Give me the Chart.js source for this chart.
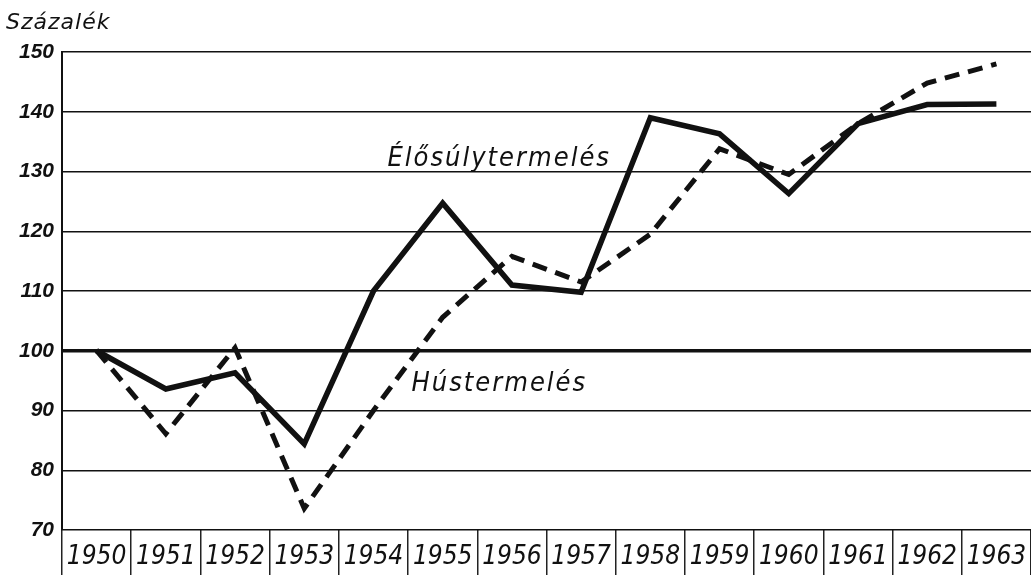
<!DOCTYPE html>
<html>
<head>
<meta charset="utf-8">
<script src="https://cdn.jsdelivr.net/npm/chart.js@4"></script>
<style>
  body { margin: 0; background: #fff; }
  canvas { display: block; }
</style>
</head>
<body>
<canvas id="chart" width="1031" height="578"></canvas>
<script>
// évek és indexek (1950 = 100)
const years = ['1950', '1951', '1952', '1953', '1954', '1955', '1956', '1957', '1958', '1959', '1960', '1961', '1962', '1963'];
const elosulyTermeles = [100, 93.6, 96.3, 84.4, 110, 124.7, 111, 109.8, 139, 136.3, 126.3, 138, 141.2, 141.3];
const husTermeles = [100, 86.1, 100.5, 73.6, 90, 105.6, 115.8, 111.5, 119.5, 133.8, 129.5, 138, 144.8, 148];
const yMin = 70;
const yMax = 150;
const yStep = 10;
const yTitle = 'Százalék';
const labels = [
    { text: 'Élősúlytermelés', year: '1954', dx: 14, value: 131 },
    { text: 'Hústermelés', year: '1954', dx: 38, value: 93.3 }
];

const condensed = "'Liberation Sans Narrow', 'DejaVu Sans Condensed', 'Liberation Sans', sans-serif";

const textPlugin = {
    id: 'texts',
    afterDraw(chart) {
        const ctx = chart.ctx;
        const x = chart.scales.x;
        const y = chart.scales.y;
        ctx.save();
        ctx.fillStyle = '#111';
        ctx.textBaseline = 'alphabetic';
        ctx.textAlign = 'left';
        ctx.font = "italic 22px 'DejaVu Sans', sans-serif";
        ctx.letterSpacing = '1px';
        ctx.fillText(yTitle, 6, 29);
        ctx.font = "italic 27px " + condensed;
        ctx.letterSpacing = '2px';
        labels.forEach(l => {
            const px = x.getPixelForValue(years.indexOf(l.year)) + l.dx;
            ctx.fillText(l.text, px, y.getPixelForValue(l.value));
        });
        ctx.restore();
    }
};

const ctx = document.getElementById('chart').getContext('2d');
new Chart(ctx, {
    type: 'line',
    data: {
        labels: years,
        datasets: [{
            label: 'Élősúlytermelés',
            data: elosulyTermeles,
            borderColor: '#111',
            borderWidth: 5.5,
            pointRadius: 0,
            tension: 0
        }, {
            label: 'Hústermelés',
            data: husTermeles,
            borderColor: '#111',
            borderWidth: 5,
            borderDash: [15, 9],
            pointRadius: 0,
            tension: 0
        }]
    },
    options: {
        responsive: false,
        animation: false,
        layout: { padding: { top: 52, left: 0, right: 0, bottom: 0 } },
        plugins: {
            legend: { display: false },
            tooltip: { enabled: false }
        },
        scales: {
            x: {
                offset: true,
                afterFit: s => { s.height = 48; },
                border: { display: false },
                grid: {
                    offset: true,
                    drawOnChartArea: false,
                    drawTicks: true,
                    tickLength: 45,
                    color: '#222',
                    lineWidth: 1.5
                },
                ticks: {
                    color: '#111',
                    padding: -33,
                    autoSkip: false,
                    maxRotation: 0,
                    font: { family: condensed, size: 26, style: 'italic' }
                }
            },
            y: {
                min: yMin,
                max: yMax,
                afterFit: s => { s.width = 62; },
                border: { display: true, color: '#111', width: 2 },
                grid: {
                    drawTicks: false,
                    color: '#111',
                    lineWidth: c => c.tick && c.tick.value === 100 ? 3.5 : 1.5
                },
                ticks: {
                    stepSize: yStep,
                    color: '#111',
                    padding: 8,
                    font: { family: "'Liberation Sans', sans-serif", size: 21, style: 'italic', weight: 'bold' }
                }
            }
        }
    },
    plugins: [textPlugin]
});
</script>
</body>
</html>
